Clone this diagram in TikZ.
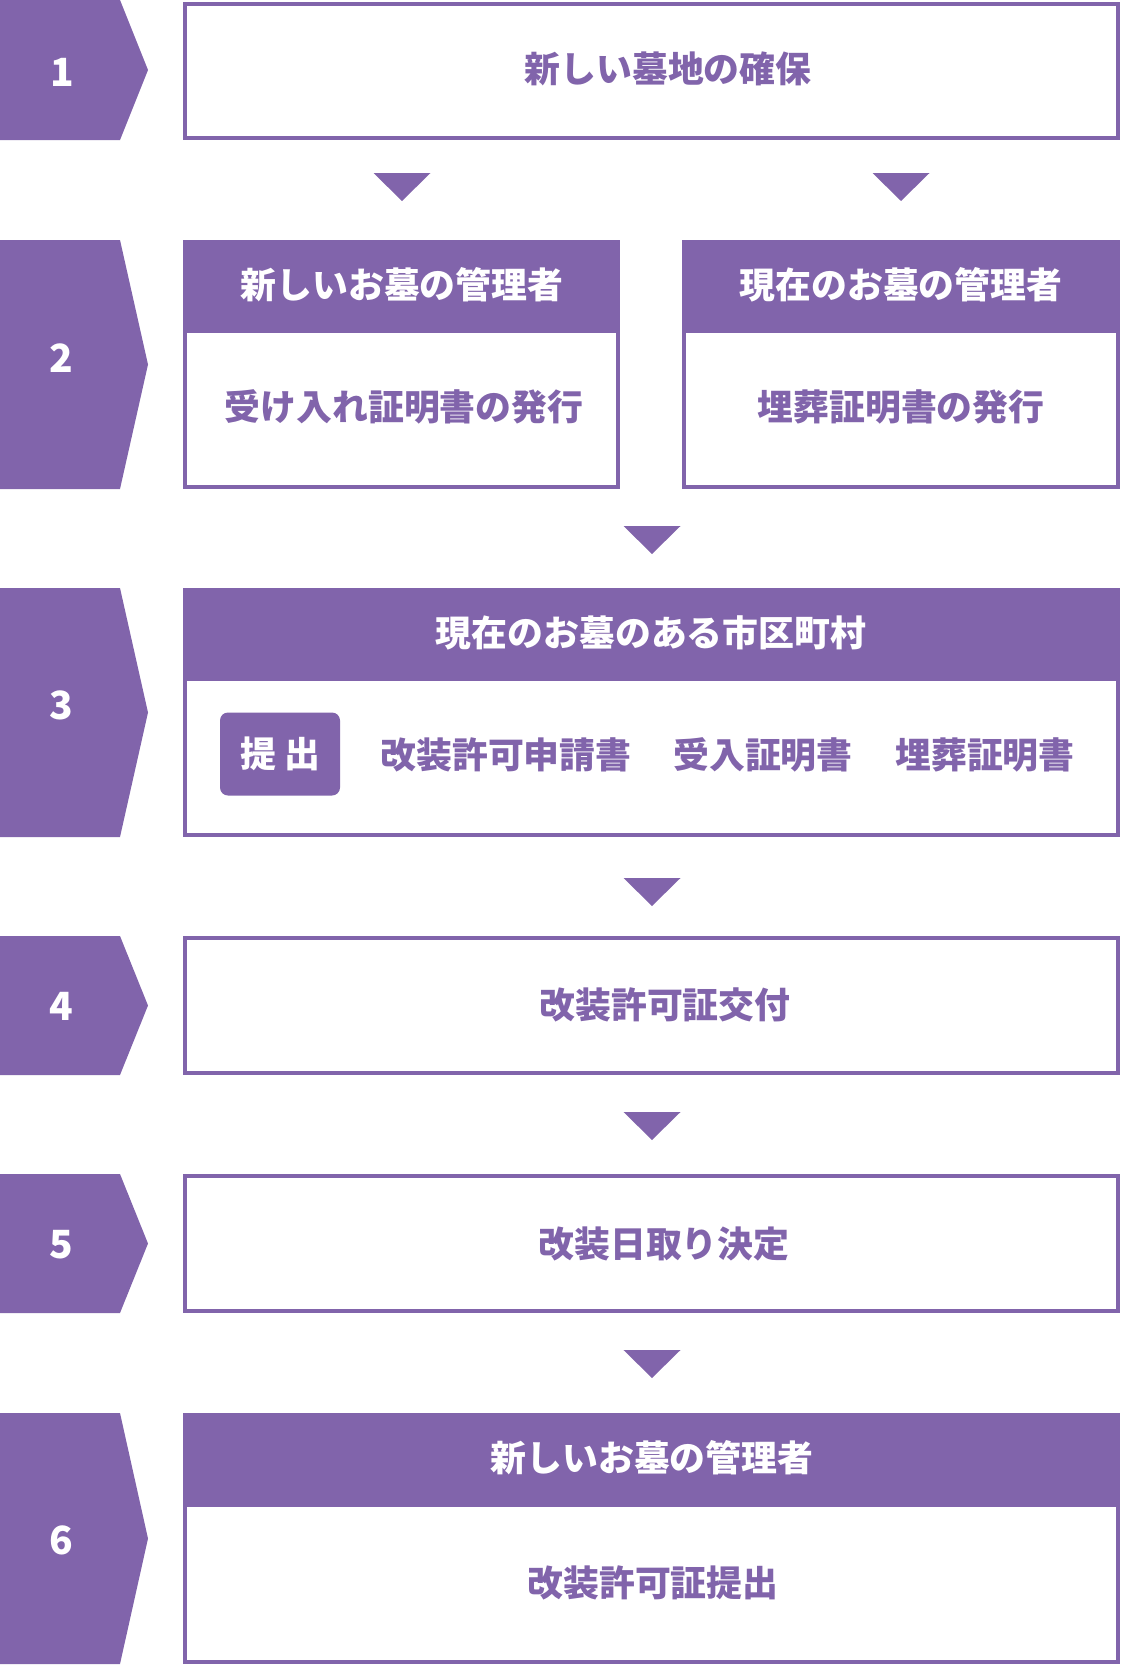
\documentclass[tikz,border=0pt]{standalone}
\usepackage{fontspec}
\newfontfamily\jp{Noto Sans CJK JP}
\definecolor{pp}{RGB}{129,100,171}
\newcommand\badgeshape[2]{\fill[pp] (0,#1) -- (120,#1) -- (148,{(#1+#2)/2}) -- (120,#2) -- (0,#2) -- cycle;}
\newcommand\downtri[2]{\fill[pp] ({#1-28.5},#2) -- ({#1+28.5},#2) -- (#1,{#2+28}) -- cycle;}
\begin{document}
\begin{tikzpicture}[x=1bp,y=-1bp,
  frame/.style={draw=pp, line width=3.5bp, fill=white},
  hdr/.style={fill=pp},
  num/.style={text=white, font=\jp\bfseries\fontsize{39}{44}\selectfont, inner sep=0pt},
  wtxt/.style={text=white, font=\jp\bfseries\fontsize{36}{40}\selectfont, inner sep=0pt},
  ptxt/.style={text=pp, font=\jp\bfseries\fontsize{36}{40}\selectfont, inner sep=0pt},
  tag/.style={fill=pp, rounded corners=8bp, text=white, font=\jp\bfseries\fontsize{36}{40}\selectfont, minimum width=120bp, minimum height=83bp, inner sep=0pt}]
\useasboundingbox (0,0) rectangle (1122,1666);
% badges
\badgeshape{0}{140}
\badgeshape{240}{489}
\badgeshape{588}{837}
\badgeshape{936}{1075}
\badgeshape{1174}{1313}
\badgeshape{1413}{1664}
\node[num] (n1) at (62,72) {1};
\node[num] (n2) at (61,358) {2};
\node[num] (n3) at (61,705) {3};
\node[num] (n4) at (61,1006) {4};
\node[num] (n5) at (61,1245) {5};
\node[num] (n6) at (61,1540) {6};
% step 1
\draw[frame] (185,4) rectangle (1118,138);
\node[ptxt] (s1) at (668,69) {新しい墓地の確保};
\downtri{402}{173}
\downtri{901}{173}
% step 2
\draw[frame] (185,242) rectangle (618,487);
\fill[pp] (183,240) rectangle (620,333);
\node[wtxt] (h2a) at (402,285) {新しいお墓の管理者};
\node[ptxt] (b2a) at (404,407) {受け入れ証明書の発行};
\draw[frame] (684,242) rectangle (1118,487);
\fill[pp] (682,240) rectangle (1120,333);
\node[wtxt] (h2b) at (901,285) {現在のお墓の管理者};
\node[ptxt] (b2b) at (901,407) {埋葬証明書の発行};
\downtri{652}{526}
% step 3
\draw[frame] (185,590) rectangle (1118,835);
\fill[pp] (183,588) rectangle (1120,681);
\node[wtxt] (h3) at (651,633) {現在のお墓のある市区町村};
\node[tag] (t3) at (280,754) {提 出};
\node[ptxt] (d1) at (506,755) {改装許可申請書};
\node[ptxt] (d2) at (763,755) {受入証明書};
\node[ptxt] (d3) at (985,755) {埋葬証明書};
\downtri{652}{878}
% step 4
\draw[frame] (185,938) rectangle (1118,1073);
\node[ptxt] (s4) at (665,1005) {改装許可証交付};
\downtri{652}{1112}
% step 5
\draw[frame] (185,1176) rectangle (1118,1311);
\node[ptxt] (s5) at (664,1244) {改装日取り決定};
\downtri{652}{1350}
% step 6
\draw[frame] (185,1415) rectangle (1118,1662);
\fill[pp] (183,1413) rectangle (1120,1507);
\node[wtxt] (h6) at (652,1458) {新しいお墓の管理者};
\node[ptxt] (b6) at (653,1583) {改装許可証提出};
\end{tikzpicture}
\end{document}
